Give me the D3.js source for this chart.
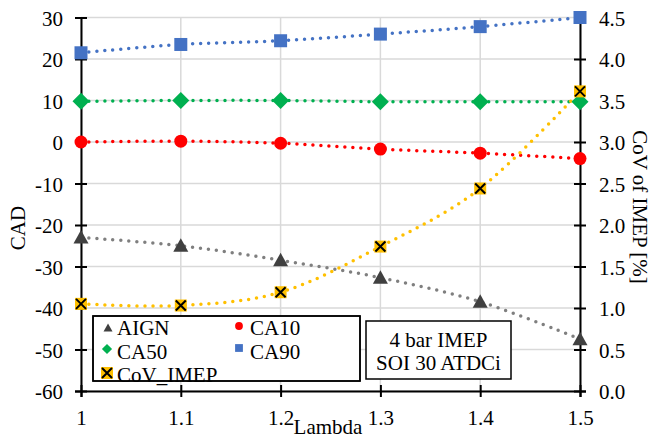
<!DOCTYPE html>
<html>
<head>
<meta charset="utf-8">
<script src="https://cdn.jsdelivr.net/npm/d3@7/dist/d3.min.js"></script>
<style>
  body { margin: 0; background: #fff; }
  #chart text { font-family: "Liberation Serif", "Times New Roman", Times, "DejaVu Serif", serif !important; fill: #000; }
</style>
</head>
<body>
<svg id="chart" width="653" height="445"></svg>
<script>
// Combustion phasing vs. lambda, with CoV of IMEP on the secondary axis
const lambda = [1.0, 1.1, 1.2, 1.3, 1.4, 1.5];
const aign = [-23, -25, -28.5, -32.7, -38.5, -47.5];
const ca10 = [0, 0.2, -0.3, -1.7, -2.7, -4.0];
const ca50 = [9.8, 10.0, 10.0, 9.7, 9.7, 9.7];
const ca90 = [21.5, 23.5, 24.4, 26.0, 27.8, 30.0];
const covImep = [1.05, 1.03, 1.19, 1.74, 2.44, 3.61];

const xTicks = [1, 1.1, 1.2, 1.3, 1.4, 1.5];
const yLeftTicks = [30, 20, 10, 0, -10, -20, -30, -40, -50, -60];
const yRightTicks = [0, 0.5, 1, 1.5, 2, 2.5, 3, 3.5, 4, 4.5];

const svg = d3.select("#chart");
const plotLeft = 81, plotRight = 580, plotTop = 17.5, plotBottom = 391;

const x = d3.scaleLinear().domain([1, 1.5]).range([plotLeft, plotRight]);
const yL = d3.scaleLinear().domain([-60, 30]).range([plotBottom, plotTop]);
const yR = d3.scaleLinear().domain([0, 4.5]).range([plotBottom, plotTop]);

// gridlines
const grid = svg.append("g").attr("stroke", "#d9d9d9").attr("stroke-width", 1.5);
yLeftTicks.forEach(t => grid.append("line")
  .attr("x1", plotLeft).attr("x2", plotRight).attr("y1", yL(t)).attr("y2", yL(t)));
xTicks.forEach(t => grid.append("line")
  .attr("x1", x(t)).attr("x2", x(t)).attr("y1", plotTop).attr("y2", plotBottom));

// axes
const fs = 21;
const axL = svg.append("g").attr("transform", `translate(${plotLeft},0)`)
  .call(d3.axisLeft(yL).tickValues(yLeftTicks).tickSize(6).tickFormat(d => d));
const axR = svg.append("g").attr("transform", `translate(${plotRight},0)`)
  .call(d3.axisRight(yR).tickValues(yRightTicks).tickSize(6).tickFormat(d3.format(".1f")));
const axB = svg.append("g").attr("transform", `translate(0,${plotBottom})`)
  .call(d3.axisBottom(x).tickValues(xTicks).tickSize(6).tickFormat(d => d));

[axL, axR, axB].forEach(a => {
  a.attr("font-family", null).attr("font-size", null);
  a.select(".domain").attr("stroke", "#000").attr("stroke-width", 2);
  a.selectAll(".tick line").attr("stroke", "#000").attr("stroke-width", 2);
  a.selectAll(".tick text").attr("font-size", fs).attr("fill", "#000");
});
// ticks cross the axis line
axL.selectAll(".tick line").attr("x1", 6).attr("x2", -6);
axR.selectAll(".tick line").attr("x1", -6).attr("x2", 6);
axB.selectAll(".tick line").attr("y1", -6).attr("y2", 6);
axL.selectAll(".tick text").attr("x", -18).attr("dy", "0.36em");
axR.selectAll(".tick text").attr("x", 19).attr("dy", "0.36em");
axB.selectAll(".tick text").attr("y", 34).attr("dy", 0);

// axis titles
svg.append("text").attr("transform", "translate(25,228) rotate(-90)")
  .attr("text-anchor", "middle").attr("font-size", fs).text("CAD");
svg.append("text").attr("transform", "translate(633,207) rotate(90)")
  .attr("text-anchor", "middle").attr("font-size", fs).text("CoV of IMEP [%]");
svg.append("text").attr("x", 328).attr("y", 434)
  .attr("text-anchor", "middle").attr("font-size", fs).text("Lambda");

// series
const series = [
  { name: "AIGN", vals: aign, y: yL, line: "#7f7f7f", marker: "triangle", fill: "#404040" },
  { name: "CA10", vals: ca10, y: yL, line: "#ff0000", marker: "circle", fill: "#ff0000" },
  { name: "CA50", vals: ca50, y: yL, line: "#00b050", marker: "diamond", fill: "#00b050" },
  { name: "CA90", vals: ca90, y: yL, line: "#4472c4", marker: "square", fill: "#4472c4" },
  { name: "CoV_IMEP", vals: covImep, y: yR, line: "#ffc000", marker: "xsquare", fill: "#ffc000" }
];

function drawMarker(g, type, cx, cy, fill, s) {
  s = s || 1;
  if (type === "triangle") {
    const h = 7.5 * s;
    g.append("path").attr("d", `M${cx},${cy - h} L${cx + h},${cy + h * 0.8} L${cx - h},${cy + h * 0.8}Z`).attr("fill", fill);
  } else if (type === "circle") {
    g.append("circle").attr("cx", cx).attr("cy", cy).attr("r", 6.5 * s).attr("fill", fill);
  } else if (type === "diamond") {
    const r = 8.5 * s;
    g.append("path").attr("d", `M${cx},${cy - r} L${cx + r},${cy} L${cx},${cy + r} L${cx - r},${cy}Z`).attr("fill", fill);
  } else if (type === "square") {
    const r = 6.5 * s;
    g.append("rect").attr("x", cx - r).attr("y", cy - r).attr("width", 2 * r).attr("height", 2 * r).attr("fill", fill);
  } else if (type === "xsquare") {
    const r = 6 * s;
    g.append("rect").attr("x", cx - r).attr("y", cy - r).attr("width", 2 * r).attr("height", 2 * r).attr("fill", fill);
    const k = 5 * s;
    g.append("path").attr("d", `M${cx - k},${cy - k} L${cx + k},${cy + k} M${cx + k},${cy - k} L${cx - k},${cy + k}`)
      .attr("stroke", "#000").attr("stroke-width", 2);
  }
}

const plot = svg.append("g");
series.forEach(s => {
  const line = d3.line().x((d, i) => x(lambda[i])).y(d => s.y(d)).curve(d3.curveCatmullRom.alpha(0));
  plot.append("path").attr("d", line(s.vals)).attr("fill", "none")
    .attr("stroke", s.line).attr("stroke-width", 3.5)
    .attr("stroke-linecap", "round").attr("stroke-dasharray", "0,8");
});
series.forEach(s => {
  s.vals.forEach((v, i) => drawMarker(plot, s.marker, x(lambda[i]), s.y(v), s.fill));
});

// legend
const lg = svg.append("g");
lg.append("rect").attr("x", 93).attr("y", 316).attr("width", 267).attr("height", 65)
  .attr("fill", "#fff").attr("stroke", "#000").attr("stroke-width", 1.5);
const legendPos = [
  { s: series[0], mx: 108, tx: 117, y: 328, base: 335 },
  { s: series[1], mx: 239, tx: 250, y: 326, base: 335 },
  { s: series[2], mx: 107, tx: 117, y: 349, base: 359 },
  { s: series[3], mx: 239, tx: 250, y: 348, base: 359 },
  { s: series[4], mx: 107, tx: 117, y: 373, base: 382 }
];
legendPos.forEach(p => {
  drawMarker(lg, p.s.marker, p.mx, p.y, p.s.fill, p.s.marker === "xsquare" ? 1 : 0.6);
  lg.append("text").attr("x", p.tx).attr("y", p.base).attr("font-size", fs).text(p.s.name);
});
// frame drawn on top so the last row sits against the border
lg.append("rect").attr("x", 93).attr("y", 316).attr("width", 267).attr("height", 65)
  .attr("fill", "none").attr("stroke", "#000").attr("stroke-width", 1.5);

// annotation box
const ab = svg.append("g");
ab.append("rect").attr("x", 366).attr("y", 321).attr("width", 145).attr("height", 58)
  .attr("fill", "#fff").attr("stroke", "#000").attr("stroke-width", 1.5);
ab.append("text").attr("x", 438.5).attr("y", 347).attr("text-anchor", "middle").attr("font-size", fs).text("4 bar IMEP");
ab.append("text").attr("x", 438.5).attr("y", 370).attr("text-anchor", "middle").attr("font-size", fs).text("SOI 30 ATDCi");
</script>
</body>
</html>
